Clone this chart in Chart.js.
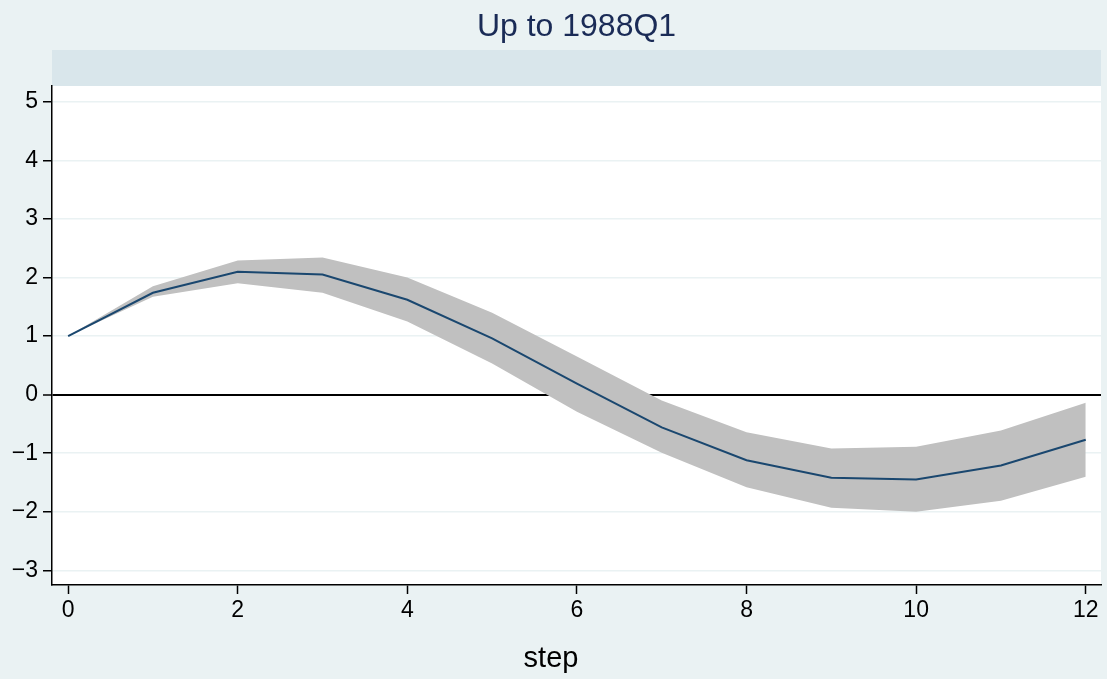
<!DOCTYPE html>
<html>
<head>
<meta charset="utf-8">
<script src="https://cdn.jsdelivr.net/npm/chart.js@4"></script>
<style>
  html, body { margin: 0; padding: 0; background: #eaf2f3; }
  canvas { display: block; }
</style>
</head>
<body>
<canvas id="irfChart" width="1107" height="679"></canvas>
<script>
const steps = [0, 1, 2, 3, 4, 5, 6, 7, 8, 9, 10, 11, 12];
const irf   = [1.00, 1.74, 2.10, 2.05, 1.62, 0.96, 0.19, -0.56, -1.12, -1.42, -1.45, -1.21, -0.77];
const upper = [1.00, 1.85, 2.29, 2.34, 2.00, 1.40, 0.65, -0.10, -0.64, -0.92, -0.89, -0.61, -0.14];
const lower = [1.00, 1.67, 1.90, 1.74, 1.25, 0.53, -0.29, -0.99, -1.58, -1.93, -2.00, -1.81, -1.40];
const xTicks = [0, 2, 4, 6, 8, 10, 12];
const yTicks = [-3, -2, -1, 0, 1, 2, 3, 4, 5];
const titleText = 'Up to 1988Q1';
const xTitle = 'step';

const pts = arr => steps.map((s, i) => ({ x: s, y: arr[i] }));
const font = 'Liberation Sans, Arial, Helvetica, sans-serif';

// title, grey strip and x-axis title, drawn like Stata does
const stataFrame = {
  id: 'stataFrame',
  beforeDraw(chart) {
    const { ctx, chartArea } = chart;
    ctx.save();
    ctx.fillStyle = '#ffffff';
    ctx.fillRect(chartArea.left, chartArea.top, chartArea.right - chartArea.left, chartArea.bottom - chartArea.top);
    ctx.fillStyle = '#d9e6eb';
    ctx.fillRect(chartArea.left, 50, chartArea.right - chartArea.left, chartArea.top - 50);
    ctx.restore();
  },
  afterDraw(chart) {
    const { ctx, chartArea } = chart;
    ctx.save();
    ctx.textAlign = 'center';
    ctx.textBaseline = 'alphabetic';
    ctx.fillStyle = '#1a2b56';
    ctx.font = '32px ' + font;
    ctx.fillText(titleText, (chartArea.left + chartArea.right) / 2, 36);
    ctx.fillStyle = '#000000';
    ctx.font = '29px ' + font;
    ctx.fillText(xTitle, 551, 667);
    ctx.restore();
  }
};

new Chart(document.getElementById('irfChart'), {
  type: 'line',
  data: {
    datasets: [
      {
        label: 'irf',
        data: pts(irf),
        borderColor: '#1a476f',
        borderWidth: 2,
        pointRadius: 0,
        fill: false
      },
      {
        label: 'lower',
        data: pts(lower),
        borderWidth: 0,
        pointRadius: 0,
        fill: false
      },
      {
        label: 'upper',
        data: pts(upper),
        borderWidth: 0,
        pointRadius: 0,
        backgroundColor: '#c0c0c0',
        fill: '-1'
      }
    ]
  },
  options: {
    responsive: false,
    animation: false,
    layout: { padding: { top: 86, right: 6, left: 0, bottom: 0 } },
    plugins: {
      legend: { display: false },
      title: { display: false },
      tooltip: { enabled: false }
    },
    scales: {
      x: {
        type: 'linear',
        min: -0.19,
        max: 12.18,
        afterBuildTicks: s => { s.ticks = xTicks.map(v => ({ value: v })); },
        afterFit: s => { s.height = 94; },
        border: { display: true, color: '#000', width: 1.5 },
        grid: { drawOnChartArea: false, drawTicks: true, tickLength: 9, tickColor: '#000', tickWidth: 1.5 },
        ticks: { color: '#000', font: { family: font, size: 23 }, padding: 3, maxRotation: 0 }
      },
      y: {
        min: -3.25,
        max: 5.27,
        afterBuildTicks: s => { s.ticks = yTicks.map(v => ({ value: v })); },
        afterFit: s => { s.width = 52; },
        border: { display: true, color: '#000', width: 1.5 },
        grid: {
          color: c => c.tick && c.tick.value === 0 ? '#000000' : '#eaf2f3',
          lineWidth: c => c.tick && c.tick.value === 0 ? 2 : 1.5,
          tickLength: 9,
          tickColor: '#000',
          tickWidth: 1.5
        },
        ticks: {
          color: '#000',
          font: { family: font, size: 23 },
          padding: 5,
          callback: v => String(v).replace('-', '\u2212')
        }
      }
    }
  },
  plugins: [stataFrame]
});
</script>
</body>
</html>
